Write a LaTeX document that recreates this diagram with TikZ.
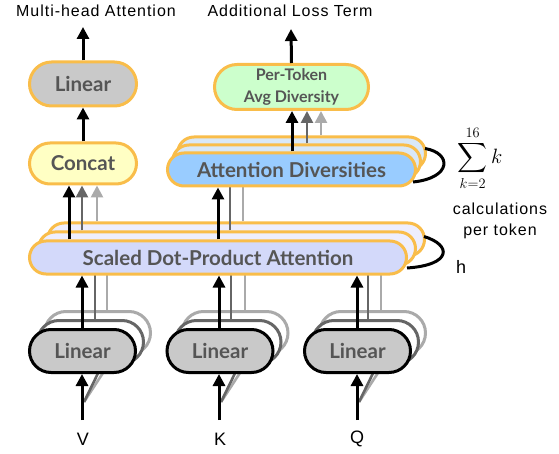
\documentclass[tikz,border=0pt]{standalone}
\usepackage{exscale}
\usepackage{fontspec}
\setmainfont{Liberation Sans}
\newfontfamily\boxfont{Lato}
\newfontfamily\lblfont[LetterSpace=6]{Liberation Sans}
\usetikzlibrary{arrows.meta,shapes.misc}
\definecolor{orng}{HTML}{F9BD4A}
\definecolor{lingray}{HTML}{C9C9C9}
\definecolor{concatY}{HTML}{FFFFC4}
\definecolor{ptgreen}{HTML}{CCFFCC}
\definecolor{adfront}{HTML}{99CCFF}
\definecolor{adback}{HTML}{D9E8F7}
\definecolor{sdfront}{HTML}{D3D9FA}
\definecolor{sdback}{HTML}{EEEEFD}
\definecolor{txtgray}{HTML}{555555}
\definecolor{dkg}{HTML}{666666}
\definecolor{ltg}{HTML}{AAAAAA}
\pgfdeclarelayer{bktwo}
\pgfdeclarelayer{arrtwo}
\pgfdeclarelayer{bkone}
\pgfdeclarelayer{arrone}
\pgfdeclarelayer{toplayer}
\pgfsetlayers{bktwo,arrtwo,bkone,arrone,main,toplayer}
\tikzset{
  pill/.style={rounded rectangle, line width=3pt, inner sep=0pt, align=center,
    font=\boxfont\bfseries\fontsize{20.5}{22}\selectfont, text=txtgray},
  obox/.style={pill, draw=orng},
  arrblk/.style={line width=3pt, black, -{Triangle[length=12pt,width=12pt]}},
  arrdk/.style={line width=2.6pt, dkg, -{Triangle[length=12pt,width=12pt]}},
  arrlt/.style={line width=2.6pt, ltg, -{Triangle[length=12pt,width=12pt]}},
  lndk/.style={line width=2.6pt, dkg},
  lnlt/.style={line width=2.6pt, ltg},
  lbl/.style={font=\lblfont\fontsize{16}{18}\selectfont, inner sep=0pt},
  biglbl/.style={font=\lblfont\fontsize{18}{20}\selectfont, inner sep=0pt},
  curl/.style={line width=3pt, black},
}
\begin{document}
\begin{tikzpicture}[x=1pt,y=-1pt]
\useasboundingbox (0,0) rectangle (559,454);

% ---------- back layers (second copy) ----------
\begin{pgfonlayer}{bktwo}
\node[obox, fill=sdback, minimum width=377pt, minimum height=33pt] (sdB2) at (236,239.5) {};
\node[obox, fill=adback, minimum width=248pt, minimum height=33pt] (adB2) at (301.5,153.5) {};
\node[pill, draw=ltg, fill=white, minimum width=106pt, minimum height=43pt] (vB2) at (97.5,333) {};
\node[pill, draw=ltg, fill=white, minimum width=106pt, minimum height=43pt] (kB2) at (235,333) {};
\node[pill, draw=ltg, fill=white, minimum width=106pt, minimum height=43pt] (qB2) at (372.5,333) {};
\end{pgfonlayer}
\begin{pgfonlayer}{bkone}
\node[obox, fill=sdback, minimum width=377pt, minimum height=33pt] (sdB1) at (227,248.5) {};
\node[obox, fill=adback, minimum width=248pt, minimum height=33pt] (adB1) at (296.5,161.5) {};
\node[pill, draw=dkg, fill=white, minimum width=106pt, minimum height=43pt] (vB1) at (90.5,342) {};
\node[pill, draw=dkg, fill=white, minimum width=106pt, minimum height=43pt] (kB1) at (228,342) {};
\node[pill, draw=dkg, fill=white, minimum width=106pt, minimum height=43pt] (qB1) at (365.5,342) {};
\end{pgfonlayer}

% ---------- front nodes ----------
\node[obox, fill=lingray, minimum width=107pt, minimum height=44pt] (linT) at (83,84) {Linear};
\node[obox, fill=concatY, minimum width=107pt, minimum height=41pt] (concat) at (83,163.5) {Concat};
\node[obox, fill=ptgreen, minimum width=154pt, minimum height=45pt,
      font=\boxfont\bfseries\fontsize{16}{22}\selectfont] (pt) at (291.5,87) {Per-Token\\Avg Diversity};
\node[obox, fill=adfront, minimum width=248pt, minimum height=33pt] (adF) at (291.5,169.5) {Attention Diversities};
\node[obox, fill=sdfront, minimum width=377pt, minimum height=33pt] (sdF) at (218,257.5) {Scaled Dot-Product Attention};
\node[pill, draw=black, fill=lingray, minimum width=106pt, minimum height=43pt] (vF) at (82.5,351) {Linear};
\node[pill, draw=black, fill=lingray, minimum width=106pt, minimum height=43pt] (kF) at (220,351) {Linear};
\node[pill, draw=black, fill=lingray, minimum width=106pt, minimum height=43pt] (qF) at (357.5,351) {Linear};

% ---------- texts ----------
\node[lbl] (tMH) at (96,11) {Multi-head Attention};
\node[lbl] (tAL) at (290,11) {Additional Loss Term};
\node[biglbl] (V) at (83,439) {V};
\node[biglbl] (K) at (220,439) {K};
\node[biglbl] (Q) at (357,439) {Q};
\node[biglbl] (hh) at (461,267) {h};
\node[lbl, align=center, font=\lblfont\fontsize{16}{21}\selectfont] (calc) at (500,221) {calculations\\per token};
\node[inner sep=0pt, font=\fontsize{20}{24}\selectfont] (sum) at (480,158) {$\displaystyle\sum_{k=2}^{16} k$};

\coordinate (outMH) at (83,27);
\coordinate (outAL) at (291,29);
\coordinate (inV) at (82,420);
\coordinate (inK) at (219,420);
\coordinate (inQ) at (357,420);
\coordinate (sV) at (84,402);
\coordinate (sK) at (221,402);
\coordinate (sQ) at (359,402);

% ---------- arrows ----------
\begin{pgfonlayer}{arrtwo}
\draw[arrlt] (97,0 |- sdB2.north) -- (97,0 |- concat.south);
\draw[lnlt] (243,0 |- sdB2.north) -- (243,0 |- adB2.south);
\draw[arrlt] (321,0 |- adB2.north) -- (321,0 |- pt.south);
\draw[lnlt] (107,0 |- vB2.north) -- (107,0 |- sdB2.south);
\draw[lnlt] (245,0 |- kB2.north) -- (245,0 |- sdB2.south);
\draw[lnlt] (381,0 |- qB2.north) -- (381,0 |- sdB2.south);
\draw[lnlt] (sV) -- (114,0 |- vB2.south);
\draw[lnlt] (sK) -- (251,0 |- kB2.south);
\draw[lnlt] (sQ) -- (389,0 |- qB2.south);
\end{pgfonlayer}
\begin{pgfonlayer}{arrone}
\draw[arrdk] (82,0 |- sdB1.north) -- (82,0 |- concat.south);
\draw[lndk] (230,0 |- sdB1.north) -- (230,0 |- adB1.south);
\draw[arrdk] (307,0 |- adB1.north) -- (307,0 |- pt.south);
\draw[lndk] (95,0 |- vB1.north) -- (95,0 |- sdB1.south);
\draw[lndk] (231,0 |- kB1.north) -- (231,0 |- sdB1.south);
\draw[lndk] (368,0 |- qB1.north) -- (368,0 |- sdB1.south);
\draw[lndk] (sV) -- (102,0 |- vB1.south);
\draw[lndk] (sK) -- (239,0 |- kB1.south);
\draw[lndk] (sQ) -- (377,0 |- qB1.south);
\end{pgfonlayer}
\begin{pgfonlayer}{toplayer}
\draw[arrblk] (69,0 |- sdF.north) -- (69,0 |- concat.south);
\draw[arrblk] (218,0 |- sdF.north) -- (218,0 |- adF.south);
\draw[arrblk] (292,0 |- adF.north) -- (292,0 |- pt.south);
\draw[arrblk] (concat.north) -- (linT.south);
\draw[arrblk] (linT.north) -- (outMH);
\draw[arrblk] (pt.north) -- (outAL);
\draw[arrblk] (82,0 |- vF.north) -- (82,0 |- sdF.south);
\draw[arrblk] (219,0 |- kF.north) -- (219,0 |- sdF.south);
\draw[arrblk] (357,0 |- qF.north) -- (357,0 |- sdF.south);
\draw[arrblk] (inV) -- (82,0 |- vF.south);
\draw[arrblk] (inK) -- (219,0 |- kF.south);
\draw[arrblk] (inQ) -- (357,0 |- qF.south);
\draw[curl] (adB2.east) ++(-2,-5) .. controls (452,153) and (452,178) .. (413,182);
\draw[curl] (sdB2.east) ++(-2,-3) .. controls (452,245) and (452,265) .. (407,268);
\end{pgfonlayer}
\end{tikzpicture}
\end{document}
